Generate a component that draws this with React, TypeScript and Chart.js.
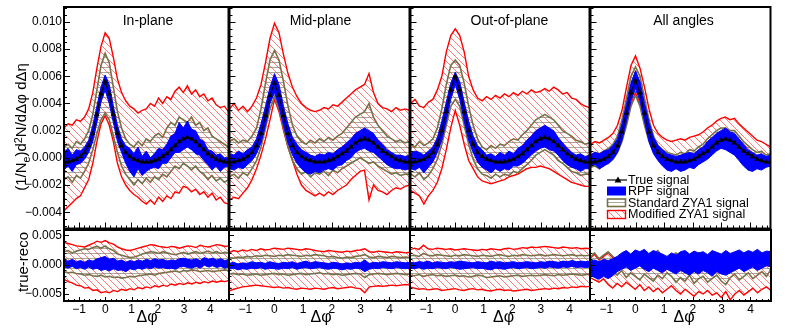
import React, { useEffect, useRef } from 'react';
import { Chart, registerables } from 'chart.js';

Chart.register(...registerables);

// ================= DATA (values in units of 1e-4) =================
const UNIT = 1e-4;
const DPHI = [-1.5708,-1.414,-1.257,-1.100,-0.942,-0.785,-0.628,-0.471,-0.314,-0.157, 0,0.157,0.314,0.471,0.628,0.785,0.942,1.100,1.257,1.414, 1.571,1.728,1.885,2.042,2.199,2.356,2.513,2.670,2.827,2.985, 3.142,3.299,3.456,3.613,3.770,3.927,4.084,4.241,4.398,4.555,4.7124];
const X_TICKS = [-1, 0, 1, 2, 3, 4];
const Y_TICKS_TOP = [-0.004, -0.002, 0, 0.002, 0.004, 0.006, 0.008, 0.01];
const Y_TICKS_BOT = [-0.005, 0, 0.005];
const PANEL_TITLES = ['In-plane', 'Mid-plane', 'Out-of-plane', 'All angles'];
const LEGEND_LABELS = ['True signal', 'RPF signal', 'Standard ZYA1 signal', 'Modified ZYA1 signal'];

// ---- In-plane (top) ----
const TRUE_IN = [-3,-3,-2,-1,1,4,9,18,32,47, 56,47,32,18,9,4,1,-1,-2,-3, -3,-3,-2,-1,1,3,6,9,12,14, 15,14,12,9,6,3,1,-1,-2,-3,-3];
const RPF_HI_IN = [4,7,2,6,5,8,13,24,38,52, 61,54,38,24,14,9,7,3,8,1, 5,0,3,7,6,10,16,18,26,22, 27,21,20,14,12,6,5,2,3,0,0];
const RPF_LO_IN = [-9,-6,-10,-5,-4,-1,4,12,26,41, 50,40,26,12,4,-4,-10,-14,-8,-13, -10,-8,-7,-8,-4,-4,0,4,4,6, 8,6,3,2,-2,-5,-9,-6,-10,-7,-6];
const STD_HI_IN = [8,10,7,12,10,14,20,32,50,68, 77,70,52,34,22,14,10,8,12,9, 14,12,16,18,15,22,26,24,30,28, 26,30,24,26,20,22,16,14,12,10,8];
const STD_LO_IN = [-16,-14,-18,-13,-15,-10,-4,6,18,28, 33,28,16,4,-6,-12,-16,-20,-16,-19, -15,-18,-14,-16,-12,-14,-10,-6,-8,-4, -6,-9,-6,-10,-12,-16,-13,-17,-15,-18,-16];
const MOD_HI_IN = [22,25,24,28,27,30,36,48,66,82, 92,88,74,58,48,42,38,36,33,35, 36,40,38,44,40,45,43,49,52,48, 53,47,50,45,47,42,44,39,37,38,34];
const MOD_LO_IN = [-39,-36,-33,-30,-28,-22,-16,-4,12,25, 31,24,12,-4,-14,-20,-24,-27,-29,-32, -34,-31,-34,-29,-32,-28,-30,-25,-26,-21, -22,-25,-23,-27,-25,-29,-26,-31,-29,-33,-34];

// ---- Mid-plane (top) ----
const TRUE_MID = [-3,-3,-2,-1,1,4,9,18,31,46, 55,46,31,18,9,4,1,-1,-2,-3, -3,-3,-2,-1,1,3,5,8,11,13, 14,13,11,8,5,3,1,-1,-2,-3,-3];
const RPF_HI_MID = [3,2,5,3,6,8,14,25,38,52, 62,54,38,25,15,10,6,4,2,1, 3,2,4,3,6,8,11,14,18,20, 22,20,18,13,10,6,4,2,2,1,2];
const RPF_LO_MID = [-8,-9,-7,-8,-5,-2,3,11,24,40, 48,38,24,11,2,-4,-8,-11,-12,-10, -11,-9,-8,-9,-6,-5,-2,0,4,6, 7,5,4,1,-2,-5,-7,-8,-8,-9,-8];
const STD_HI_MID = [12,14,11,13,12,16,22,36,55,72, 79,72,56,38,24,16,12,10,13,11, 14,12,15,13,16,18,22,26,30,32, 34,40,30,24,20,16,14,12,13,11,12];
const STD_LO_MID = [-14,-12,-15,-11,-13,-8,-2,8,22,36, 45,36,22,8,-2,-8,-12,-10,-14,-11, -12,-10,-13,-9,-11,-8,-6,-4,-2,0, -2,-4,-3,-6,-8,-10,-12,-11,-13,-12,-12];
const MOD_HI_MID = [36,40,35,38,34,38,44,54,70,88, 99,92,76,62,52,45,40,37,35,34, 35,37,36,39,38,41,44,47,50,52, 54,62,48,40,37,36,34,37,35,36,35];
const MOD_LO_MID = [-31,-29,-30,-26,-22,-16,-8,2,14,28, 43,34,20,8,-2,-12,-20,-24,-26,-28, -26,-28,-25,-27,-24,-22,-20,-16,-13,-10, -9,-31,-20,-24,-25,-27,-24,-22,-23,-21,-20];

// ---- Out-of-plane (top) ----
const TRUE_OUT = [-3,-3,-2,-1,1,4,10,20,34,50, 60,50,34,20,10,4,1,-1,-2,-3, -3,-3,-2,-1,1,3,6,9,12,14, 15,14,12,9,6,3,1,-1,-2,-3,-3];
const RPF_HI_OUT = [3,5,4,2,5,8,15,27,41,55, 63,56,41,27,16,9,6,2,3,1, 4,2,5,3,7,9,13,16,20,22, 24,22,20,15,11,7,4,2,3,1,2];
const RPF_LO_OUT = [-8,-9,-7,-11,-7,-3,4,13,27,43, 54,43,27,13,4,-3,-7,-9,-11,-8, -10,-8,-9,-6,-6,-4,-1,2,5,7, 8,6,5,2,-2,-5,-7,-8,-10,-8,-8];
const STD_HI_OUT = [10,8,12,9,11,14,22,36,54,68, 72,68,55,38,24,14,8,6,9,7, 10,9,12,14,13,17,20,24,28,30, 32,30,28,24,20,18,16,13,12,10,11];
const STD_LO_OUT = [-12,-14,-11,-16,-13,-8,-1,10,24,38, 43,38,24,10,-1,-8,-12,-13,-15,-12, -14,-12,-13,-10,-11,-8,-5,-2,2,4, 6,4,2,-2,-4,-7,-10,-11,-13,-12,-12];
const MOD_HI_OUT = [40,43,38,37,41,43,50,60,78,90, 95,90,78,60,50,44,42,45,43,46, 44,47,45,48,46,49,47,50,48,49, 51,49,52,50,47,48,44,43,40,38,37];
const MOD_LO_OUT = [-24,-26,-28,-34,-28,-24,-18,-8,6,22, 35,24,10,-2,-8,-14,-17,-18,-19,-18, -17,-16,-14,-13,-12,-10,-8,-7,-7,-6, -7,-8,-10,-12,-14,-16,-18,-19,-20,-21,-21];

// ---- All angles (top) ----
const TRUE_ALL = [-3,-3,-2,-1,1,4,9,19,33,48, 57,48,33,19,9,4,1,-1,-2,-3, -3,-3,-2,-1,1,3,5,8,11,13, 14,13,11,8,5,3,1,-1,-2,-3,-3];
const RPF_HI_ALL = [2,4,3,5,6,9,14,25,40,55, 64,56,40,26,15,9,6,3,2,1, 2,3,4,3,6,8,12,15,18,20, 22,19,18,14,10,6,4,2,3,1,2];
const RPF_LO_ALL = [-6,-5,-8,-6,-4,-1,4,13,27,42, 51,42,27,12,3,-2,-6,-9,-10,-8, -10,-9,-7,-8,-5,-3,-1,2,5,7, 6,4,2,-2,-6,-9,-10,-8,-9,-7,-6];
const STD_HI_ALL = [2,4,3,5,7,10,16,28,44,60, 67,60,44,28,16,9,6,4,3,2, 4,3,6,5,8,10,14,17,20,22, 22,20,20,16,12,9,6,4,5,2,3];
const STD_LO_ALL = [-7,-6,-8,-5,-4,-1,4,12,24,38, 46,38,24,12,4,-1,-4,-6,-8,-7, -8,-6,-7,-5,-3,-1,2,4,6,8, 8,6,3,0,-3,-5,-7,-6,-8,-6,-6];
const MOD_HI_ALL = [10,12,11,13,15,18,24,35,52,68, 75,66,52,36,24,18,15,13,12,13, 14,13,15,16,17,19,22,24,27,29, 30,28,29,25,22,19,16,13,12,10,8];
const MOD_LO_ALL = [-5,-4,-6,-3,-2,1,6,14,26,40, 48,40,26,14,6,1,-2,-4,-6,-5, -6,-4,-5,-3,-1,1,4,6,8,10, 10,8,5,2,-1,-3,-5,-4,-6,-4,-4];

// ---- true - reco (bottom) ----
const D_RPF_HI_IN = [8,6,9,5,7,4,8,6,10,12, 14,9,11,6,8,4,7,5,8,6, 9,7,10,8,9,6,8,7,10,11, 9,8,10,7,12,9,11,8,10,7,9];
const D_RPF_LO_IN = [-4,-6,-3,-7,-5,-8,-4,-8,-6,-10, -8,-11,-7,-10,-9,-12,-7,-9,-6,-8, -5,-7,-4,-6,-5,-7,-6,-8,-4,-3, -5,-6,-3,-6,-1,-4,-2,-5,-3,-6,-4];
const D_STD_HI_IN = [22,24,20,23,25,27,26,29,31,28, 32,27,24,18,16,14,12,13,15,18, 20,22,21,19,22,20,18,17,19,21, 18,20,22,19,21,23,20,22,19,21,20];
const D_STD_LO_IN = [-12,-14,-13,-15,-16,-18,-17,-19,-20,-18, -21,-20,-22,-21,-23,-22,-20,-21,-19,-18, -17,-16,-18,-15,-14,-13,-12,-11,-13,-10, -11,-9,-10,-12,-11,-10,-12,-11,-10,-9,-10];
const D_MOD_HI_IN = [38,36,34,32,31,30,33,36,40,38, 41,37,35,30,27,25,24,26,28,30, 32,34,33,31,30,29,31,30,28,30, 32,31,29,33,31,30,32,34,33,31,32];
const D_MOD_LO_IN = [-25,-29,-31,-35,-36,-40,-39,-44,-43,-48, -46,-48,-44,-46,-42,-44,-41,-43,-39,-41, -38,-40,-36,-38,-35,-37,-33,-35,-32,-34, -31,-33,-30,-32,-29,-31,-28,-30,-28,-29,-27];

const D_RPF_HI_MID = [2,4,1,3,2,5,3,4,2,5, 3,2,4,3,5,2,4,6,3,5, 4,3,2,4,3,1,3,2,4,3, 8,2,4,3,5,4,3,5,4,3,4];
const D_RPF_LO_MID = [-8,-6,-9,-7,-8,-6,-7,-5,-8,-6, -7,-8,-6,-7,-5,-8,-6,-5,-7,-6, -5,-7,-8,-6,-7,-9,-7,-8,-6,-7, -12,-8,-6,-7,-5,-6,-7,-5,-6,-7,-6];
const D_STD_HI_MID = [12,11,13,12,14,13,15,14,16,15, 14,16,15,17,16,15,14,16,15,17, 16,15,13,14,12,11,13,12,14,15, 17,13,12,14,13,12,14,13,12,13,12];
const D_STD_LO_MID = [-16,-15,-17,-16,-18,-17,-16,-18,-17,-16, -15,-17,-16,-18,-17,-16,-15,-17,-16,-15, -14,-16,-15,-17,-16,-18,-17,-16,-15,-16, -22,-17,-16,-15,-16,-17,-16,-15,-16,-17,-16];
const D_MOD_HI_MID = [20,24,22,25,23,26,24,27,25,26, 28,27,26,28,27,26,25,27,26,24, 23,22,24,23,22,21,23,22,24,25, 27,22,21,23,22,21,20,22,21,20,21];
const D_MOD_LO_MID = [-45,-42,-40,-38,-37,-36,-35,-36,-37,-38, -39,-38,-40,-39,-41,-42,-40,-41,-42,-40, -41,-42,-40,-39,-41,-40,-39,-38,-40,-41, -48,-38,-37,-36,-37,-36,-35,-36,-35,-34,-35];

const D_RPF_HI_OUT = [4,3,5,4,6,3,5,4,3,5, 4,6,5,4,3,5,4,3,6,4, 5,3,4,5,3,4,5,4,3,5, 4,6,5,4,6,5,7,5,6,5,6];
const D_RPF_LO_OUT = [-6,-7,-5,-8,-6,-7,-5,-6,-7,-5, -6,-8,-7,-6,-5,-7,-6,-8,-9,-6, -7,-8,-6,-5,-7,-6,-5,-7,-6,-5, -6,-4,-5,-6,-4,-5,-3,-5,-4,-5,-4];
const D_STD_HI_OUT = [15,16,14,19,16,15,17,16,15,14, 16,15,17,16,15,14,16,15,14,16, 17,15,14,16,15,17,16,15,16,17, 15,16,17,16,15,16,17,15,16,15,16];
const D_STD_LO_OUT = [-18,-19,-17,-20,-18,-17,-19,-18,-20,-19, -18,-20,-19,-21,-20,-18,-19,-22,-21,-20, -19,-21,-20,-19,-18,-20,-19,-18,-19,-18, -17,-18,-19,-17,-18,-17,-16,-17,-18,-17,-16];
const D_MOD_HI_OUT = [25,28,26,33,27,26,28,27,26,27, 25,26,27,26,25,24,26,25,27,26, 25,27,28,26,27,29,28,30,29,30, 31,30,29,28,30,29,28,29,27,28,27];
const D_MOD_LO_OUT = [-38,-40,-42,-41,-43,-42,-41,-44,-43,-42, -41,-43,-44,-42,-41,-43,-42,-44,-45,-43, -42,-44,-43,-45,-44,-43,-42,-44,-43,-42, -41,-42,-40,-41,-39,-40,-38,-39,-37,-38,-37];

const D_RPF_HI_ALL = [6,8,5,9,7,10,14,20,24,18, 25,22,26,19,24,21,18,14,20,16, 22,24,18,23,20,22,17,24,21,18, 24,19,22,25,20,24,21,26,20,23,22];
const D_RPF_LO_ALL = [-18,-22,-25,-20,-24,-19,-12,-8,-4,-10, -6,-2,-8,-12,-6,-10,-14,-8,-12,-16, -10,-14,-18,-12,-16,-10,-14,-20,-12,-16, -18,-14,-10,-6,-12,-8,-4,-10,-6,-2,-4];
const D_STD_HI_ALL = [12,20,10,16,22,14,8,12,18,10, 14,8,16,12,18,24,14,10,16,20, 12,18,10,14,20,12,16,22,14,10, 18,12,8,14,20,10,16,8,12,18,10];
const D_STD_LO_ALL = [-10,-4,-14,-8,-6,-12,-18,-10,-22,-14, -20,-26,-16,-22,-28,-18,-24,-14,-20,-30, -22,-28,-18,-32,-24,-20,-30,-24,-18,-28, -34,-22,-16,-26,-20,-14,-24,-18,-12,-20,-8];
const D_MOD_HI_ALL = [10,18,8,14,20,12,6,10,16,8, 12,6,14,10,16,22,12,8,14,18, 10,16,8,12,18,10,14,20,12,8, 16,10,6,12,18,8,14,6,10,16,8];
const D_MOD_LO_ALL = [-22,-26,-30,-24,-34,-40,-32,-38,-30,-36, -42,-34,-44,-38,-46,-40,-48,-42,-36,-44, -50,-42,-48,-54,-46,-50,-44,-52,-48,-56, -46,-60,-50,-44,-52,-46,-40,-48,-42,-38,-44];

type PanelData = {
  tru?: number[];
  rpfHi: number[]; rpfLo: number[];
  stdHi: number[]; stdLo: number[];
  modHi: number[]; modLo: number[];
};

const TOP_PANELS: PanelData[] = [
  { tru: TRUE_IN, rpfHi: RPF_HI_IN, rpfLo: RPF_LO_IN, stdHi: STD_HI_IN, stdLo: STD_LO_IN, modHi: MOD_HI_IN, modLo: MOD_LO_IN },
  { tru: TRUE_MID, rpfHi: RPF_HI_MID, rpfLo: RPF_LO_MID, stdHi: STD_HI_MID, stdLo: STD_LO_MID, modHi: MOD_HI_MID, modLo: MOD_LO_MID },
  { tru: TRUE_OUT, rpfHi: RPF_HI_OUT, rpfLo: RPF_LO_OUT, stdHi: STD_HI_OUT, stdLo: STD_LO_OUT, modHi: MOD_HI_OUT, modLo: MOD_LO_OUT },
  { tru: TRUE_ALL, rpfHi: RPF_HI_ALL, rpfLo: RPF_LO_ALL, stdHi: STD_HI_ALL, stdLo: STD_LO_ALL, modHi: MOD_HI_ALL, modLo: MOD_LO_ALL },
];
const BOT_PANELS: PanelData[] = [
  { rpfHi: D_RPF_HI_IN, rpfLo: D_RPF_LO_IN, stdHi: D_STD_HI_IN, stdLo: D_STD_LO_IN, modHi: D_MOD_HI_IN, modLo: D_MOD_LO_IN },
  { rpfHi: D_RPF_HI_MID, rpfLo: D_RPF_LO_MID, stdHi: D_STD_HI_MID, stdLo: D_STD_LO_MID, modHi: D_MOD_HI_MID, modLo: D_MOD_LO_MID },
  { rpfHi: D_RPF_HI_OUT, rpfLo: D_RPF_LO_OUT, stdHi: D_STD_HI_OUT, stdLo: D_STD_LO_OUT, modHi: D_MOD_HI_OUT, modLo: D_MOD_LO_OUT },
  { rpfHi: D_RPF_HI_ALL, rpfLo: D_RPF_LO_ALL, stdHi: D_STD_HI_ALL, stdLo: D_STD_LO_ALL, modHi: D_MOD_HI_ALL, modLo: D_MOD_LO_ALL },
];

// ================= LAYOUT & STYLE =================
const FONT = '"Liberation Sans", Arial, Helvetica, sans-serif';
const FRAME_X = [64, 229, 410, 590, 771];
const TOP_FRAME = [7, 229];
const BOT_FRAME = [230, 301];
const PAD = 4;
const X_AXIS_H = 27;
const X_RANGE = [-Math.PI / 2, 1.5 * Math.PI];
const Y_RANGE_TOP = [-0.0052, 0.0111];
const Y_RANGE_BOT = [-0.0062, 0.0059];
const OLIVE = '#77714a';
const RED = '#ff0000';
const BLUE = '#0000ff';
const TITLE_X = [148, 320.5, 509.5, 683.5];
const DPHI_LABEL_X = [147, 321, 503.5, 684];
const LEGEND_X = 607;
const LEGEND_Y = [179.5, 191, 202.5, 214];

function diagPattern(ctx: CanvasRenderingContext2D) {
  const s = 7;
  const c = document.createElement('canvas');
  c.width = s; c.height = s;
  const g = c.getContext('2d')!;
  g.strokeStyle = 'rgba(255,40,40,0.6)';
  g.lineWidth = 1;
  g.beginPath();
  g.moveTo(-1, -1); g.lineTo(s + 1, s + 1);
  g.moveTo(-1, s - 1); g.lineTo(1, s + 1);
  g.moveTo(s - 1, -1); g.lineTo(s + 1, 1);
  g.stroke();
  return ctx.createPattern(c, 'repeat')!;
}

function horizPattern(ctx: CanvasRenderingContext2D) {
  const c = document.createElement('canvas');
  c.width = 4; c.height = 5;
  const g = c.getContext('2d')!;
  g.fillStyle = 'rgba(110,108,85,0.6)';
  g.fillRect(0, 2, 4, 1);
  return ctx.createPattern(c, 'repeat')!;
}

const fmtX = (v: number) => (v < 0 ? '\u2212' + Math.abs(v) : String(v));
const fmtY = (v: number) => (v < -1e-12 ? '\u2212' : '') + Math.abs(v).toFixed(3);

function buildChart(canvas: HTMLCanvasElement, isTop: boolean, k: number, canvasLeft: number, canvasTop: number) {
  const ctx = canvas.getContext('2d')!;
  const diag = diagPattern(ctx);
  const horiz = horizPattern(ctx);
  const d = isTop ? TOP_PANELS[k] : BOT_PANELS[k];
  const pts = (arr: number[]) => DPHI.map((x, i) => ({ x, y: arr[i] * UNIT }));
  const datasets: any[] = [];
  if (d.tru) {
    datasets.push({
      data: pts(d.tru), borderColor: '#000', borderWidth: 1.2, fill: false,
      pointStyle: 'triangle', pointRadius: 2.7, pointBackgroundColor: '#000', pointBorderColor: '#000', pointBorderWidth: 0.5,
    });
  }
  datasets.push({ data: pts(d.rpfHi), borderColor: BLUE, borderWidth: 1, backgroundColor: BLUE, fill: '+1', pointRadius: 0 });
  datasets.push({ data: pts(d.rpfLo), borderColor: BLUE, borderWidth: 1, fill: false, pointRadius: 0 });
  datasets.push({ data: pts(d.stdHi), borderColor: OLIVE, borderWidth: 1.6, backgroundColor: horiz, fill: '+1', pointRadius: 0 });
  datasets.push({ data: pts(d.stdLo), borderColor: OLIVE, borderWidth: 1.6, fill: false, pointRadius: 0 });
  datasets.push({ data: pts(d.modHi), borderColor: RED, borderWidth: 1.4, backgroundColor: diag, fill: '+1', pointRadius: 0 });
  datasets.push({ data: pts(d.modLo), borderColor: RED, borderWidth: 1.4, fill: false, pointRadius: 0 });

  const yRange = isTop ? Y_RANGE_TOP : Y_RANGE_BOT;
  const yTicks = isTop ? Y_TICKS_TOP : Y_TICKS_BOT;
  const showY = k === 0;
  const showX = !isTop;
  const tickFont = { family: FONT, size: 12 };

  const framePlugin = {
    id: 'rootFrame',
    afterDatasetsDraw(chart: any) {
      const c: CanvasRenderingContext2D = chart.ctx;
      const a = chart.chartArea;
      const xs = chart.scales.x, ys = chart.scales.y;
      c.save();
      c.strokeStyle = '#000';
      c.lineWidth = 1;
      c.beginPath();
      const yStep = isTop ? 0.0005 : 0.001;
      const yMaj = isTop ? 6 : 5, yMin = isTop ? 3 : 2.5;
      for (let i = Math.ceil(yRange[0] / yStep - 1e-6); i <= Math.floor(yRange[1] / yStep + 1e-6); i++) {
        const v = i * yStep;
        const major = yTicks.some((t) => Math.abs(t - v) < 1e-9);
        const p = Math.round(ys.getPixelForValue(v)) + 0.5;
        c.moveTo(a.left, p); c.lineTo(a.left + (major ? yMaj : yMin), p);
      }
      const xStep = 0.2;
      const xMaj = isTop ? 6 : 4, xMin = isTop ? 3 : 2;
      for (let i = Math.ceil(X_RANGE[0] / xStep); i <= Math.floor(X_RANGE[1] / xStep); i++) {
        const v = i * xStep;
        const major = X_TICKS.some((t) => Math.abs(t - v) < 1e-9);
        const p = Math.round(xs.getPixelForValue(v)) + 0.5;
        c.moveTo(p, a.bottom); c.lineTo(p, a.bottom - (major ? xMaj : xMin));
      }
      c.stroke();
      c.lineWidth = 2;
      c.strokeRect(a.left, a.top, a.right - a.left, a.bottom - a.top);
      c.restore();
    },
  };

  const legendPlugin = {
    id: 'rootLegend',
    afterDatasetsDraw(chart: any) {
      const c: CanvasRenderingContext2D = chart.ctx;
      const x0 = LEGEND_X - canvasLeft;
      const y = LEGEND_Y.map((v) => v - canvasTop);
      c.save();
      c.strokeStyle = '#000'; c.lineWidth = 1.2;
      c.beginPath(); c.moveTo(x0, y[0] + 0.5); c.lineTo(x0 + 20, y[0] + 0.5); c.stroke();
      c.fillStyle = '#000';
      c.beginPath(); c.moveTo(x0 + 11, y[0] - 3); c.lineTo(x0 + 14.5, y[0] + 3); c.lineTo(x0 + 7.5, y[0] + 3); c.closePath(); c.fill();
      c.fillStyle = BLUE; c.fillRect(x0, y[1] - 4.5, 19, 9);
      c.fillStyle = horiz; c.fillRect(x0, y[2] - 4, 19, 8);
      c.strokeStyle = OLIVE; c.lineWidth = 1.6; c.strokeRect(x0 + 0.5, y[2] - 3.5, 18, 7.5);
      c.fillStyle = diag; c.fillRect(x0, y[3] - 4, 19, 8.5);
      c.strokeStyle = RED; c.lineWidth = 1.4; c.strokeRect(x0 + 0.5, y[3] - 3.5, 18, 8);
      c.restore();
    },
  };

  const noGrid = { display: false, drawTicks: false, tickLength: 0 };
  const xScale: any = {
    type: 'linear', min: X_RANGE[0], max: X_RANGE[1], display: showX,
    grid: noGrid, border: { display: false },
    afterBuildTicks: (s: any) => { s.ticks = X_TICKS.map((v) => ({ value: v })); },
    ticks: { font: tickFont, color: '#000', padding: 1, maxRotation: 0, autoSkip: false, callback: (v: any) => fmtX(Number(v)) },
  };
  if (showX) {
    xScale.afterFit = (s: any) => { s.height = X_AXIS_H; s.paddingLeft = 0; s.paddingRight = 0; s.paddingTop = 0; s.paddingBottom = 0; };
  }
  const yScale: any = {
    type: 'linear', min: yRange[0], max: yRange[1], display: showY,
    grid: noGrid, border: { display: false },
    afterBuildTicks: (s: any) => { s.ticks = yTicks.map((v) => ({ value: v })); },
    ticks: { font: tickFont, color: '#000', padding: 2, autoSkip: false, callback: (v: any) => fmtY(Number(v)) },
  };
  if (showY) {
    yScale.afterFit = (s: any) => { s.width = FRAME_X[0]; s.paddingLeft = 0; s.paddingRight = 0; s.paddingTop = 0; s.paddingBottom = 0; };
  }

  return new Chart(ctx, {
    type: 'line',
    data: { datasets },
    options: {
      animation: false,
      responsive: false,
      devicePixelRatio: 1,
      events: [],
      layout: { padding: { left: k === 0 ? 0 : PAD, right: PAD, top: isTop ? TOP_FRAME[0] : PAD, bottom: isTop ? PAD : 0 } },
      plugins: { legend: { display: false }, tooltip: { enabled: false } },
      elements: { line: { tension: 0 } },
      scales: { x: xScale, y: yScale },
    } as any,
    plugins: isTop && k === 3 ? [framePlugin, legendPlugin] : [framePlugin],
  });
}

function Panel({ isTop, k }: { isTop: boolean; k: number }) {
  const ref = useRef<HTMLCanvasElement>(null);
  const left = k === 0 ? 0 : FRAME_X[k] - PAD;
  const right = FRAME_X[k + 1] + PAD;
  const width = right - left;
  const top = isTop ? 0 : BOT_FRAME[0] - PAD;
  const height = isTop ? TOP_FRAME[1] + PAD : BOT_FRAME[1] + X_AXIS_H - top;
  useEffect(() => {
    const chart = buildChart(ref.current!, isTop, k, left, top);
    return () => chart.destroy();
  }, []);
  return <canvas ref={ref} width={width} height={height} style={{ position: 'absolute', left, top, width, height }} />;
}

const textStyle: React.CSSProperties = { position: 'absolute', whiteSpace: 'nowrap', lineHeight: 1, color: '#000' };

export default function App() {
  return (
    <div style={{ position: 'fixed', left: 0, top: 0, width: 788, height: 328, background: '#fff', overflow: 'hidden', fontFamily: FONT }}>
      {[0, 1, 2, 3].map((k) => <Panel key={'t' + k} isTop={true} k={k} />)}
      {[0, 1, 2, 3].map((k) => <Panel key={'b' + k} isTop={false} k={k} />)}
      {PANEL_TITLES.map((t, k) => (
        <div key={t} style={{ ...textStyle, left: TITLE_X[k], top: 19.5, transform: 'translate(-50%,-50%)', fontSize: 14 }}>{t}</div>
      ))}
      <div style={{ ...textStyle, left: 22, top: 127, transform: 'translate(-50%,-50%) rotate(-90deg)', fontSize: 15 }}>
        (1/N<span style={{ fontSize: '0.72em', verticalAlign: '-0.3em' }}>e</span>)d<span style={{ fontSize: '0.72em', verticalAlign: '0.45em' }}>2</span>N/dΔφ dΔη
      </div>
      <div style={{ ...textStyle, left: 22, top: 262, transform: 'translate(-50%,-50%) rotate(-90deg)', fontSize: 15 }}>true-reco</div>
      {DPHI_LABEL_X.map((x, k) => (
        <div key={'dphi' + k} style={{ ...textStyle, left: x, top: 316.5, transform: 'translate(-50%,-50%)', fontSize: 16 }}>Δφ</div>
      ))}
      {LEGEND_LABELS.map((t, i) => (
        <div key={t} style={{ ...textStyle, left: 628, top: LEGEND_Y[i], transform: 'translate(0,-50%)', fontSize: 12.5 }}>{t}</div>
      ))}
    </div>
  );
}
